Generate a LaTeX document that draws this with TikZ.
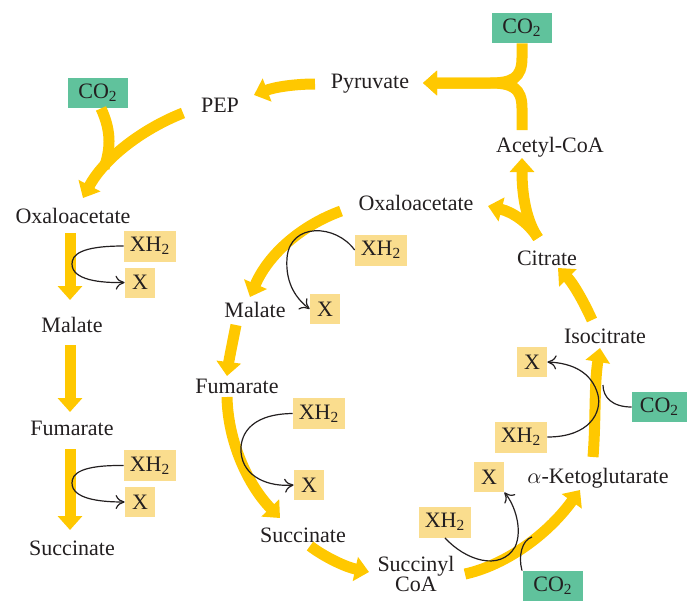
\documentclass[tikz,border=0pt]{standalone}
\usepackage{fontspec}
\setmainfont{Liberation Serif}
\usetikzlibrary{arrows.meta}
\definecolor{flux}{RGB}{255,200,0}
\definecolor{cogreen}{RGB}{96,194,156}
\definecolor{xpale}{RGB}{250,221,142}
\definecolor{ink}{RGB}{35,31,32}
\begin{document}
\begin{tikzpicture}[x=0.5pt,y=-0.5pt,
  txt/.style={inner sep=0pt, anchor=base, text=ink, font=\fontsize{11}{10}\selectfont},
  cobox/.style={fill=cogreen, inner sep=0pt, minimum width=30pt, minimum height=15pt, text=ink, font=\fontsize{11}{12}\selectfont},
  xhbox/.style={fill=xpale, inner sep=0pt, minimum width=26pt, minimum height=15.5pt, text=ink, font=\fontsize{11}{12}\selectfont},
  xbox/.style={fill=xpale, inner sep=0pt, minimum width=15pt, minimum height=15pt, text=ink, font=\fontsize{11}{12}\selectfont},
  flow/.style={draw=flux, line width=5.5pt, -{Triangle[width=12pt,length=7pt]}},
  flowbare/.style={draw=flux, line width=5.5pt},
  redox/.style={draw=ink, line width=0.6pt, -{Computer Modern Rightarrow[length=4.5pt,width=7pt]}},
  redoxbare/.style={draw=ink, line width=0.6pt}]
\useasboundingbox (0,0) rectangle (687,601);

% ---------- text nodes ----------
\node[txt] (pep) at (220,112) {PEP};
\node[txt] (pyr) at (370,88) {Pyruvate};
\node[txt] (acoa) at (550,152) {Acetyl-CoA};
\node[txt] (oaaR) at (416,210) {Oxaloacetate};
\node[txt] (oaaL) at (73,223) {Oxaloacetate};
\node[txt] (malL) at (72,332) {Malate};
\node[txt] (fumL) at (72,435) {Fumarate};
\node[txt] (sucL) at (72,555) {Succinate};
\node[txt] (malM) at (255,317) {Malate};
\node[txt] (fumM) at (237,393) {Fumarate};
\node[txt] (sucM) at (303,542) {Succinate};
\node[txt, align=center, anchor=center] (scoa) at (416,574) {Succinyl\\CoA};
\node[txt] (akg) at (598,483) {$\alpha$-Ketoglutarate};
\node[txt] (iso) at (605,343) {Isocitrate};
\node[txt] (cit) at (547,265) {Citrate};

% ---------- boxes ----------
\node[cobox] (coA) at (98,93) {CO\textsubscript{2}};
\node[cobox] (coB) at (522,28) {CO\textsubscript{2}};
\node[cobox, minimum width=27.5pt] (coC) at (659.5,407) {CO\textsubscript{2}};
\node[cobox] (coD) at (553,586) {CO\textsubscript{2}};
\node[xhbox] (xhL1) at (150,246) {XH\textsubscript{2}};
\node[xbox] (xL1) at (140,282.5) {X};
\node[xhbox] (xhL2) at (150,465.5) {XH\textsubscript{2}};
\node[xbox] (xL2) at (140,502) {X};
\node[xhbox] (xhM1) at (381,250) {XH\textsubscript{2}};
\node[xbox] (xM1) at (325,309) {X};
\node[xhbox] (xhM2) at (319,413.5) {XH\textsubscript{2}};
\node[xbox] (xM2) at (309,485) {X};
\node[xbox] (xR) at (532,362) {X};
\node[xhbox] (xhR) at (521,437) {XH\textsubscript{2}};
\node[xhbox] (xhB) at (445,522) {XH\textsubscript{2}};
\node[xbox] (xB) at (489,477) {X};

% ---------- yellow flux arrows ----------
\begin{scope}[on background layer/.style={}]
% pyruvate -> PEP
\draw[flow] (315,84) .. controls (295,84) and (275,87) .. (254,95);
% PEP -> oxaloacetate (left), with CO2 entering
\draw[flowbare] (coA.south) ++(3,0) .. controls (110,128) and (112,146) .. (104,168);
\draw[flow] (183,113) .. controls (140,130) and (103,160) .. (83,198);
% acetyl-CoA + CO2 -> pyruvate
\draw[flow] (coB.south) -- (522,58) .. controls (522,78) and (512,83) .. (490,83) -- (423,83);
\draw[flow] (522,130) -- (522,108) .. controls (522,88) and (512,83) .. (490,83) -- (423,83);
% citrate -> acetyl-CoA and oxaloacetate
\draw[flow] (538,238) .. controls (526,220) and (522,195) .. (522,158);
\draw[flow] (538,238) .. controls (528,222) and (512,212) .. (488,206);
% left linear path
\draw[flow] (70,233) -- (70,300);
\draw[flow] (70,345) -- (70,412);
\draw[flow] (70,449) -- (70,530);
% cycle
\draw[flow] (341,211) .. controls (300,226) and (268,255) .. (250,297);
\draw[flow] (236,325) .. controls (232,345) and (229,360) .. (227,376);
\draw[flow] (227,397) .. controls (228,442) and (248,485) .. (280,518);
\draw[flow] (310,546) .. controls (326,558) and (346,567) .. (369,572);
\draw[flow] (465,574) .. controls (502,566) and (545,538) .. (580,490);
\draw[flow] (593,457) .. controls (596,420) and (594,385) .. (600,348);
\draw[flow] (592,320) .. controls (582,298) and (572,282) .. (558,268);
\end{scope}

% ---------- redox connectors ----------
\draw[redox] (xhL1.west) .. controls (80,246) and (72,255) .. (72,264) .. controls (72,280) and (100,283) .. (xL1.west);
\draw[redox] (xhL2.west) .. controls (80,465) and (72,474) .. (72,483) .. controls (72,499) and (100,502) .. (xL2.west);
\draw[redox] (xhM1.west) .. controls (336,224) and (290,222) .. (287,258) .. controls (285,285) and (298,300) .. (xM1.west);
\draw[redox] (xhM2.west) .. controls (247,414) and (240,438) .. (241,452) .. controls (243,478) and (270,487) .. (xM2.west);
\draw[redox] (xhR.east) .. controls (590,437) and (602,412) .. (598,395) .. controls (592,372) and (572,363) .. (xR.east);
\draw[redox] (xhB.south) .. controls (465,560) and (500,572) .. (515,547) .. controls (523,530) and (515,505) .. (xB.south east);
\draw[redoxbare] (coC.west) .. controls (612,407) and (603,397) .. (603,385);
\draw[redoxbare] (coD.north) ++(-31,0) .. controls (518,556) and (522,540) .. (532,537);
\end{tikzpicture}
\end{document}
